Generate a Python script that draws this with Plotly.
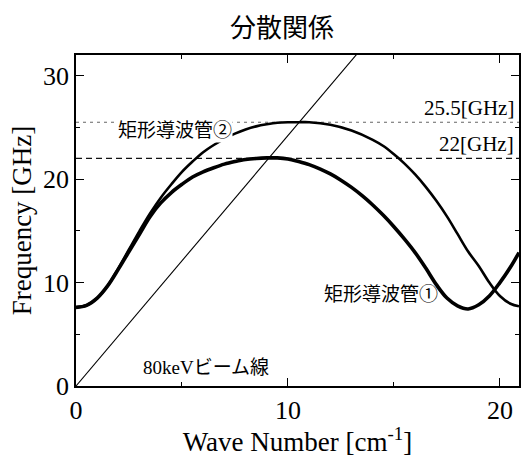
import plotly.graph_objects as go

# Waveguide 1 dispersion curve (thick)
wg1_k = [0.0, 0.5, 1.0, 1.5, 2.0, 2.5, 3.0, 3.5, 4.0, 4.5, 5.0, 5.5, 6.0, 6.5, 7.0, 7.5, 8.0, 8.5,
         9.0, 9.5, 10.0, 10.5, 11.0, 11.5, 12.0, 12.5, 13.0, 13.5, 14.0, 14.5, 15.0, 15.5, 16.0,
         16.5, 17.0, 17.5, 18.0, 18.5, 19.0, 19.5, 20.0, 20.5, 20.9]
wg1_f = [7.6, 7.8, 8.5, 9.7, 11.3, 13.0, 14.7, 16.4, 17.7, 18.7, 19.5, 20.2, 20.7, 21.1, 21.45, 21.7, 21.9, 22.0,
         22.05, 22.05, 21.95, 21.7, 21.4, 21.0, 20.5, 19.9, 19.2, 18.4, 17.5, 16.5, 15.4, 14.2, 12.9,
         11.4, 9.8, 8.5, 7.75, 7.45, 7.85, 8.7, 10.0, 11.5, 12.9]

# Waveguide 2 dispersion curve
wg2_k = [0.0, 0.5, 1.0, 1.5, 2.0, 2.5, 3.0, 3.5, 4.0, 4.5, 5.0, 5.5, 6.0, 6.5, 7.0, 7.5, 8.0, 8.5,
         9.0, 9.5, 10.0, 10.5, 11.0, 12.0, 13.0, 14.0, 14.5, 15.0, 15.5, 16.0, 16.5, 17.0, 17.5,
         18.0, 18.5, 19.0, 19.5, 20.0, 20.5, 20.9]
wg2_f = [7.6, 7.8, 8.5, 9.7, 11.4, 13.2, 15.0, 16.7, 18.2, 19.5, 20.7, 21.7, 22.6, 23.3, 23.9, 24.4, 24.8, 25.1,
         25.3, 25.45, 25.5, 25.5, 25.5, 25.25, 24.7, 23.8, 23.2, 22.4, 21.5, 20.45, 19.25, 17.9, 16.4,
         14.7, 13.0, 11.6, 10.0, 8.7, 7.95, 7.7]

# 80 keV beam line
beam_k = [0.0, 14.0]
beam_f = [0.0, 33.9]

# Reference levels
ref_k = [0.0, 20.9]
lvl_hi = [25.5, 25.5]
lvl_lo = [22.0, 22.0]

x_ticks = [0, 10, 20]
y_ticks = [0, 10, 20, 30]

serif = "Liberation Serif"
cjk = "Noto Sans CJK JP"

fig = go.Figure()
fig.add_trace(go.Scatter(x=ref_k, y=lvl_hi, mode="lines",
                         line=dict(color="#666", width=1.2, dash="3px,4px"), showlegend=False))
fig.add_trace(go.Scatter(x=ref_k, y=lvl_lo, mode="lines",
                         line=dict(color="#111", width=1.2, dash="6px,4px"), showlegend=False))
fig.add_trace(go.Scatter(x=beam_k, y=beam_f, mode="lines",
                         line=dict(color="black", width=1.1), showlegend=False))
fig.add_trace(go.Scatter(x=wg2_k, y=wg2_f, mode="lines", line_shape="spline",
                         line=dict(color="black", width=2.6), showlegend=False))
fig.add_trace(go.Scatter(x=wg1_k, y=wg1_f, mode="lines", line_shape="spline",
                         line=dict(color="black", width=3.6), showlegend=False))

ann_font = dict(family=cjk, size=19, color="black")
fig.add_annotation(x=4.69, y=24.9, text="矩形導波管②", showarrow=False,
                   font=ann_font, bgcolor="white", borderpad=0)
fig.add_annotation(x=14.41, y=9.06, text="矩形導波管①", showarrow=False, font=ann_font)
fig.add_annotation(x=6.15, y=2.0,
                   text="<span style='font-family:Liberation Serif'>80keV</span>ビーム線",
                   showarrow=False, font=ann_font)
fig.add_annotation(x=20.75, y=25.5, text="25.5[GHz]", showarrow=False, xanchor="right", yanchor="bottom",
                   font=dict(family=serif, size=21, color="black"))
fig.add_annotation(x=20.75, y=22.0, text="22[GHz]", showarrow=False, xanchor="right", yanchor="bottom",
                   font=dict(family=serif, size=21, color="black"))

axis_common = dict(showline=True, linecolor="black", linewidth=1.5, mirror="allticks",
                   ticks="inside", ticklen=8, tickcolor="black", tickwidth=1.2,
                   showgrid=False, zeroline=False,
                   tickfont=dict(family=serif, size=26, color="black"),
                   minor=dict(ticks="inside", ticklen=4, tickcolor="black", dtick=5))

fig.update_xaxes(range=[0, 20.9], tickvals=x_ticks,
                 title=dict(text="Wave Number [cm<sup>-1</sup>]", font=dict(family=serif, size=27, color="black"),
                            standoff=2),
                 **axis_common)
fig.update_yaxes(range=[0, 32], tickvals=y_ticks,
                 title=dict(text="Frequency [GHz]", font=dict(family=serif, size=27, color="black"),
                            standoff=4),
                 **axis_common)

fig.update_layout(
    width=523, height=457,
    margin=dict(l=76, r=2, t=55, b=71),
    paper_bgcolor="white", plot_bgcolor="white",
    title=dict(text="分散関係", x=282 / 523, xanchor="center", y=1 - 28 / 457, yanchor="middle",
               font=dict(family=cjk, size=26, color="black")),
)

fig.write_html("out.html", config={"displayModeBar": False},
               post_script="document.body.style.margin='0';")
